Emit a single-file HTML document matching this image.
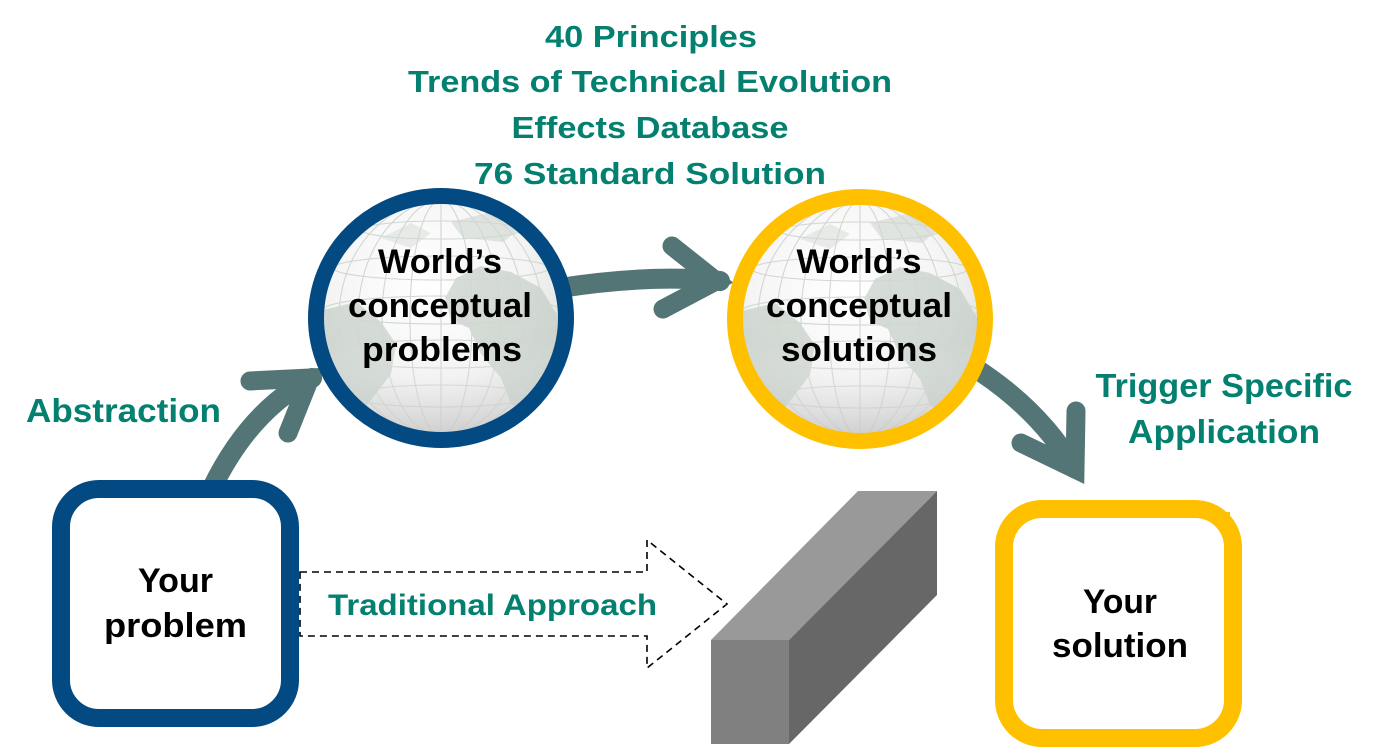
<!DOCTYPE html>
<html><head><meta charset="utf-8"><style>
html,body{margin:0;padding:0;background:#fff;}
svg{display:block;}
text{font-family:"Liberation Sans",Arial,sans-serif;font-weight:bold;}
</style></head><body>
<svg width="1398" height="749" viewBox="0 0 1398 749" xmlns="http://www.w3.org/2000/svg">
<defs>
<radialGradient id="gl" cx="0.45" cy="0.35" r="0.75">
<stop offset="0" stop-color="#ffffff"/>
<stop offset="0.55" stop-color="#f4f5f4"/>
<stop offset="0.85" stop-color="#dfe1df"/>
<stop offset="1" stop-color="#cbcdcb"/>
</radialGradient>
<linearGradient id="gb" x1="0" y1="0" x2="0" y2="1">
<stop offset="0.6" stop-color="#ffffff" stop-opacity="0"/>
<stop offset="1" stop-color="#b8b8b8" stop-opacity="0.45"/>
</linearGradient>
<clipPath id="cg"><circle cx="0" cy="0" r="118"/></clipPath>
<g id="globe">
<g clip-path="url(#cg)">
<circle cx="0" cy="0" r="118" fill="url(#gl)"/>
<g fill="#bdc8bf" opacity="0.6">
<path d="M15,-40 L40,-52 L70,-46 L100,-30 L118,0 L114,40 L102,70 L86,96 L70,86 L60,60 L40,36 L28,10 L10,2 L4,-20 Z"/>
<path d="M-118,-8 L-85,-16 L-60,4 L-45,26 L-50,56 L-70,82 L-86,102 L-102,96 L-118,60 Z"/>
<path d="M10,-96 L50,-106 L82,-92 L62,-76 L22,-80 Z" opacity="0.7"/>
<path d="M-60,-80 L-30,-95 L-10,-85 L-30,-70 Z" opacity="0.5"/>
</g>
<g fill="none" stroke="#d2d6d2" stroke-width="1.1">
<line x1="0" y1="-118" x2="0" y2="118"/>
<ellipse cx="0" cy="0" rx="31" ry="118"/>
<ellipse cx="0" cy="0" rx="59" ry="118"/>
<ellipse cx="0" cy="0" rx="83" ry="118"/>
<ellipse cx="0" cy="0" rx="102" ry="118"/>
<ellipse cx="0" cy="-8" rx="118" ry="14"/>
<ellipse cx="0" cy="-50" rx="108" ry="12"/>
<ellipse cx="0" cy="-88" rx="80" ry="9"/>
<ellipse cx="0" cy="36" rx="112" ry="14"/>
<ellipse cx="0" cy="78" rx="90" ry="11"/>
</g>
<circle cx="0" cy="0" r="118" fill="url(#gb)"/>
</g>
</g>
</defs>

<!-- arrows (under circles) -->
<g fill="none" stroke="#537575" stroke-width="20" stroke-linecap="round">
<path d="M212,488 Q250,410 312,378"/>
<path d="M560,288 Q650,274 720,281"/>
<path d="M975,368 Q1040,410 1074,468"/>
</g>
<g fill="none" stroke="#537575" stroke-width="19" stroke-linecap="round" stroke-linejoin="miter" stroke-miterlimit="6">
<path d="M250,381 L310,378 L288,433"/>
<path d="M672,246 L716,281 L663,309"/>
<path d="M1076,411 L1075,469 L1021,443"/>
</g>

<!-- globes -->
<use href="#globe" x="441" y="318"/>
<use href="#globe" x="860" y="319"/>
<ellipse cx="441" cy="318" rx="125" ry="122" fill="none" stroke="#034a82" stroke-width="16"/>
<ellipse cx="860" cy="319" rx="125" ry="122" fill="none" stroke="#ffc000" stroke-width="16"/>

<!-- boxes -->
<rect x="61" y="489" width="229" height="229" rx="38" ry="38" fill="#fff" stroke="#034a82" stroke-width="18"/>
<rect x="1004" y="509" width="229" height="229" rx="38" ry="38" fill="#fff" stroke="#ffc000" stroke-width="18"/>
<rect x="1225" y="512" width="5" height="4" fill="#ffc000"/>

<!-- dashed arrow -->
<path d="M300,572 L647,572 L647,540 L727,604 L647,668 L647,636 L300,636 Z" fill="none" stroke="#000" stroke-width="1.6" stroke-dasharray="7,5"/>

<!-- block -->
<polygon points="711,640 789,640 937,491 858,491" fill="#999999"/>
<polygon points="789,640 937,491 937,595 789,744" fill="#676767"/>
<rect x="711" y="640" width="78" height="104" fill="#808080"/>

<!-- titles -->
<g fill="#03806f" font-size="31" text-anchor="middle">
<text x="651" y="47" textLength="212" lengthAdjust="spacingAndGlyphs">40 Principles</text>
<text x="650" y="92" textLength="484" lengthAdjust="spacingAndGlyphs">Trends of Technical Evolution</text>
<text x="650" y="138" textLength="277" lengthAdjust="spacingAndGlyphs">Effects Database</text>
<text x="650" y="184" textLength="352" lengthAdjust="spacingAndGlyphs">76 Standard Solution</text>
</g>
<g fill="#03806f" font-size="33">
<text x="26" y="422" textLength="195" lengthAdjust="spacingAndGlyphs">Abstraction</text>
<text x="1224" y="397" text-anchor="middle" textLength="257" lengthAdjust="spacingAndGlyphs">Trigger Specific</text>
<text x="1224" y="443" text-anchor="middle" textLength="192" lengthAdjust="spacingAndGlyphs">Application</text>
<text x="328" y="615" font-size="30" textLength="329" lengthAdjust="spacingAndGlyphs">Traditional Approach</text>
</g>

<!-- circle + box labels -->
<g fill="#000" font-size="34" text-anchor="middle">
<text x="440" y="273" textLength="124" lengthAdjust="spacingAndGlyphs">World’s</text>
<text x="440" y="317" textLength="184" lengthAdjust="spacingAndGlyphs">conceptual</text>
<text x="442" y="361" textLength="160" lengthAdjust="spacingAndGlyphs">problems</text>
<text x="859" y="273" textLength="125" lengthAdjust="spacingAndGlyphs">World’s</text>
<text x="859" y="317" textLength="186" lengthAdjust="spacingAndGlyphs">conceptual</text>
<text x="859" y="361" textLength="156" lengthAdjust="spacingAndGlyphs">solutions</text>
<text x="175.5" y="592" textLength="75" lengthAdjust="spacingAndGlyphs">Your</text>
<text x="175.5" y="637" textLength="143" lengthAdjust="spacingAndGlyphs">problem</text>
<text x="1120" y="613" textLength="74" lengthAdjust="spacingAndGlyphs">Your</text>
<text x="1120" y="657" textLength="136" lengthAdjust="spacingAndGlyphs">solution</text>
</g>
</svg>
</body></html>
